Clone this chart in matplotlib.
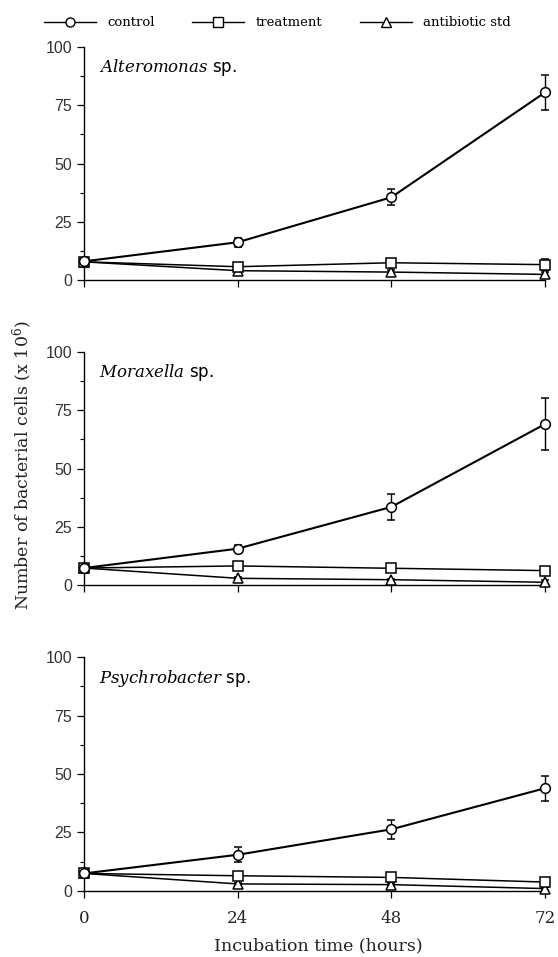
import matplotlib.pyplot as plt
from matplotlib.ticker import MultipleLocator
from matplotlib.lines import Line2D

HOURS = [0, 24, 48, 72]
SPECIES = ["Alteromonas", "Moraxella", "Psychrobacter"]

# control / treatment / antibiotic std, means and error half-widths per species
CONTROL = [
    [8.0, 16.2, 35.5, 80.5],
    [7.4, 15.7, 33.6, 69.1],
    [7.4, 15.4, 26.3, 43.9],
]
CONTROL_ERR = [
    [0.5, 2.0, 3.5, 7.5],
    [0.5, 1.5, 5.5, 11.0],
    [0.5, 3.2, 4.2, 5.3],
]
TREATMENT = [
    [7.8, 5.7, 7.4, 6.6],
    [7.4, 8.3, 7.3, 6.3],
    [7.4, 6.4, 5.7, 3.7],
]
TREATMENT_ERR = [
    [0.5, 1.0, 1.2, 2.3],
    [0.5, 0.6, 0.5, 0.5],
    [0.5, 0.8, 0.8, 1.0],
]
ANTIBIOTIC = [
    [7.8, 4.0, 3.4, 2.4],
    [7.4, 3.0, 2.4, 1.3],
    [7.4, 2.9, 2.6, 0.9],
]
ANTIBIOTIC_ERR = [
    [0.5, 0.8, 0.8, 1.0],
    [0.5, 0.5, 0.5, 0.8],
    [0.5, 0.6, 0.6, 0.8],
]

SERIF = "DejaVu Serif"
SANS = "Liberation Sans"

W, H = 558, 957
LEFT = 84 / W
RIGHT = 545 / W
# pixel rows of y=100 and y=0 for each panel
PANEL_PIX = [(47, 280), (352, 585.3), (657.3, 890.7)]


def style_axis(ax):
    ax.set_xlim(0, 72)
    ax.set_ylim(0, 100)
    ax.spines["top"].set_visible(False)
    ax.spines["right"].set_visible(False)
    for side in ("left", "bottom"):
        ax.spines[side].set_linewidth(1.0)
    ax.set_xticks(HOURS)
    ax.set_yticks([0, 25, 50, 75, 100])
    ax.yaxis.set_minor_locator(MultipleLocator(12.5))
    ax.tick_params(axis="both", which="major", direction="out", length=5, width=0.9,
                   labelsize=11.5)
    ax.tick_params(axis="x", which="major", pad=9)
    ax.tick_params(axis="y", which="minor", direction="out", length=3, width=0.8)
    for lab in ax.get_yticklabels():
        lab.set_fontfamily(SANS)
        lab.set_color("#333333")
    ax.patch.set_alpha(0)


def draw_series(ax, y, err, marker, lw):
    ax.errorbar(HOURS, y, yerr=err, color="black", linewidth=lw, elinewidth=1.0,
                capsize=3, capthick=1.0, marker=marker, markersize=7,
                markerfacecolor="white", markeredgecolor="black", markeredgewidth=1.1,
                clip_on=False, zorder=3)


def main():
    fig = plt.figure(figsize=(W / 100, H / 100), dpi=100)

    for i, (top_px, bot_px) in enumerate(PANEL_PIX):
        ax = fig.add_axes([LEFT, 1 - bot_px / H, RIGHT - LEFT, (bot_px - top_px) / H])
        draw_series(ax, ANTIBIOTIC[i], ANTIBIOTIC_ERR[i], "^", 1.1)
        draw_series(ax, TREATMENT[i], TREATMENT_ERR[i], "s", 1.1)
        draw_series(ax, CONTROL[i], CONTROL_ERR[i], "o", 1.5)
        style_axis(ax)
        if i < 2:
            ax.set_xticklabels([])
        else:
            for lab in ax.get_xticklabels():
                lab.set_fontfamily(SERIF)
                lab.set_fontsize(12)
                lab.set_color("#222222")
        ax.text(0.033, 0.955, f"$\\it{{{SPECIES[i]}}}$ $\\mathsf{{sp.}}$",
                transform=ax.transAxes, ha="left", va="top", fontsize=12,
                fontfamily=SERIF, math_fontfamily="dejavuserif")

    handles = [
        Line2D([], [], color="black", lw=1.0, marker=m, markersize=6.5,
               markerfacecolor="white", markeredgecolor="black")
        for m in ("o", "s", "^")
    ]
    fig.legend(handles, ["control", "treatment", "antibiotic std"], ncol=3,
               loc="center left", bbox_to_anchor=(44 / W, 1 - 23 / H), frameon=False,
               borderpad=0, borderaxespad=0,
               handlelength=3.94, handletextpad=0.83, columnspacing=2.88,
               prop={"family": SERIF, "size": 9.5})

    fig.text(23 / W, 1 - 465 / H, "Number of bacterial cells (x 10$^6$)", rotation=90,
             ha="center", va="center", fontsize=12.5, fontfamily=SERIF,
             math_fontfamily="dejavuserif", color="#222222")
    fig.text(318 / W, 1 - 946 / H, "Incubation time (hours)", ha="center",
             va="center", fontsize=12.5, fontfamily=SERIF, color="#222222")

    fig.savefig("out.png", dpi=100)


if __name__ == "__main__":
    main()
